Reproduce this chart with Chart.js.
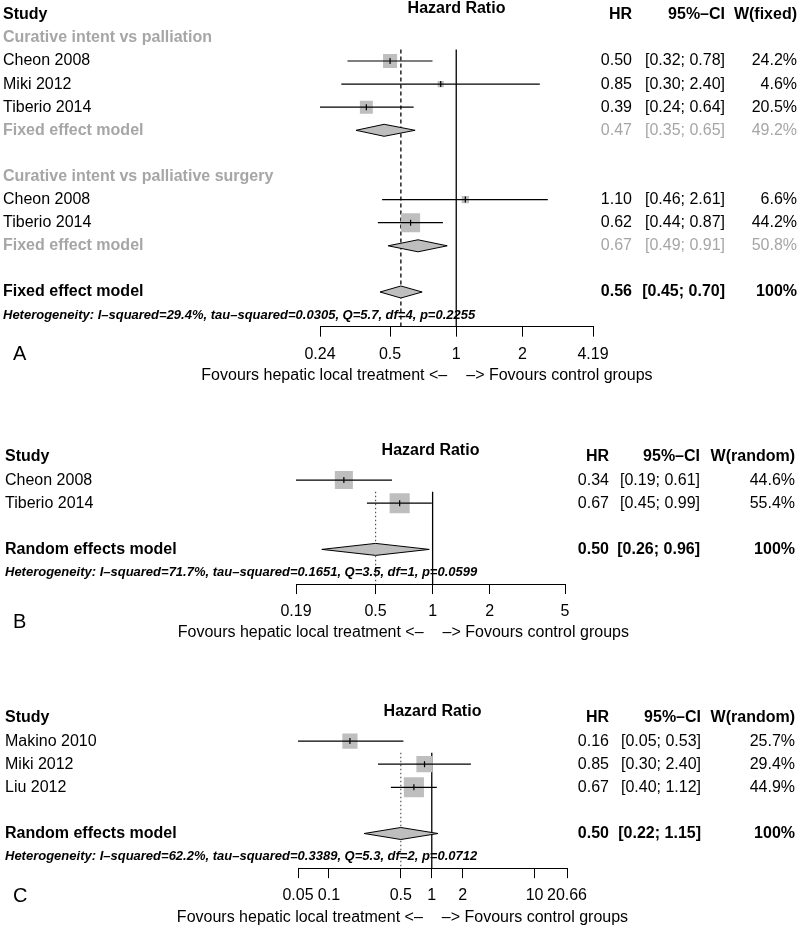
<!DOCTYPE html>
<html lang="en">
<head>
<meta charset="UTF-8">
<title>Forest plots</title>
<script src="https://cdn.jsdelivr.net/npm/chart.js"></script>
<style>
    body { margin: 0; background: #fff; }
    canvas { position: absolute; left: 0; }
</style>
</head>
<body>
<canvas id="chartA" width="800" height="402" style="top:-12px"></canvas>
<canvas id="chartB" width="800" height="255" style="top:390px"></canvas>
<canvas id="chartC" width="800" height="283" style="top:645px"></canvas>
<script>
// ---------- panel A ----------
const studyA = ['Cheon 2008', 'Miki 2012', 'Tiberio 2014', 'Cheon 2008', 'Tiberio 2014'];
const rowA = [2, 3, 4, 8, 9];
const hrA = [0.50, 0.85, 0.39, 1.10, 0.62];
const loA = [0.32, 0.30, 0.24, 0.46, 0.44];
const hiA = [0.78, 2.40, 0.64, 2.61, 0.87];
const wA = [24.2, 4.6, 20.5, 6.6, 44.2];
const groupA = ['Curative intent vs palliation', 'Curative intent vs palliative surgery'];
const groupRowA = [1, 7];
const poolLabelA = ['Fixed effect model', 'Fixed effect model', 'Fixed effect model'];
const poolRowA = [5, 10, 12];
const poolHrA = [0.47, 0.67, 0.56];
const poolLoA = [0.35, 0.49, 0.45];
const poolHiA = [0.65, 0.91, 0.70];
const poolWA = [49.2, 50.8, 100];
const poolTotalA = [false, false, true];
const ticksA = [0.24, 0.5, 1, 2, 4.19];
const hetA = 'Heterogeneity: I–squared=29.4%, tau–squared=0.0305, Q=5.7, df=4, p=0.2255';

// ---------- panel B ----------
const studyB = ['Cheon 2008', 'Tiberio 2014'];
const rowB = [1, 2];
const hrB = [0.34, 0.67];
const loB = [0.19, 0.45];
const hiB = [0.61, 0.99];
const wB = [44.6, 55.4];
const poolLabelB = ['Random effects model'];
const poolRowB = [4];
const poolHrB = [0.50];
const poolLoB = [0.26];
const poolHiB = [0.96];
const poolWB = [100];
const ticksB = [0.19, 0.5, 1, 2, 5];
const hetB = 'Heterogeneity: I–squared=71.7%, tau–squared=0.1651, Q=3.5, df=1, p=0.0599';

// ---------- panel C ----------
const studyC = ['Makino 2010', 'Miki 2012', 'Liu 2012'];
const rowC = [1, 2, 3];
const hrC = [0.16, 0.85, 0.67];
const loC = [0.05, 0.30, 0.40];
const hiC = [0.53, 2.40, 1.12];
const wC = [25.7, 29.4, 44.9];
const poolLabelC = ['Random effects model'];
const poolRowC = [5];
const poolHrC = [0.50];
const poolLoC = [0.22];
const poolHiC = [1.15];
const poolWC = [100];
const ticksC = [0.05, 0.1, 0.5, 1, 2, 10, 20.66];
const hetC = 'Heterogeneity: I–squared=62.2%, tau–squared=0.3389, Q=5.3, df=2, p=0.0712';

const FONT = '"Liberation Sans", Arial, Helvetica, sans-serif';
const GREY_TEXT = '#a6a6a6';
const BOX = '#bebebe';
const ROW = 23.1;
const TICK_LEN = 10, TICK_PAD = 8, TICK_FONT = 16;

function fmtW(v) { return v === 100 ? '100%' : v.toFixed(1) + '%'; }

function buildPanel(id, d, lay) {
    const hetRow = d.hetRow;
    const top = lay.firstRowY - ROW / 2;
    const bottom = top + (hetRow + 1) * ROW;
    const axisH = TICK_LEN + TICK_FONT * 1.2 + TICK_PAD * 2;
    const datasets = [];

    // reference lines
    datasets.push({
        data: [{ x: 1, y: 1.5 }, { x: 1, y: hetRow + 0.5 }],
        showLine: true, borderColor: '#000', borderWidth: 1.3, pointRadius: 0, order: 5
    });
    datasets.push({
        data: [{ x: d.refValue, y: 1.5 }, { x: d.refValue, y: hetRow + 0.5 }],
        showLine: true, borderColor: d.refColor, borderWidth: d.refWidth, borderDash: d.refDash,
        pointRadius: 0, order: 5
    });

    // squares
    datasets.push({
        data: d.hr.map((v, i) => ({ x: v, y: d.row[i] })),
        pointStyle: 'rect',
        pointRadius: d.w.map(w => lay.boxScale * Math.sqrt(w) / 1.414),
        backgroundColor: BOX, borderWidth: 0, order: 4
    });

    // confidence intervals
    d.hr.forEach((v, i) => {
        datasets.push({
            data: [{ x: d.lo[i], y: d.row[i] }, { x: d.hi[i], y: d.row[i] }],
            showLine: true, borderColor: '#000', borderWidth: 1.2, pointRadius: 0, order: 3
        });
    });

    // estimate marks
    datasets.push({
        data: d.hr.map((v, i) => ({ x: v, y: d.row[i] })),
        pointStyle: 'line', pointRotation: 90, pointRadius: 3,
        borderColor: '#000', borderWidth: 1.2, order: 1
    });

    // diamonds
    d.poolHr.forEach((v, i) => {
        const r = d.poolRow[i];
        datasets.push({
            data: [
                { x: d.poolLo[i], y: r }, { x: v, y: r - 0.26 }, { x: d.poolHi[i], y: r },
                { x: v, y: r + 0.26 }, { x: d.poolLo[i], y: r }
            ],
            showLine: true, fill: 'shape', tension: 0,
            backgroundColor: BOX, borderColor: '#000', borderWidth: 1, pointRadius: 0, order: 2
        });
    });

    const textPlugin = {
        id: 'forestText' + id,
        afterDraw(chart) {
            const ctx = chart.ctx;
            const ys = chart.scales.y, xs = chart.scales.x;
            const area = chart.chartArea;
            const put = (txt, x, y, align, font, color) => {
                ctx.font = font;
                ctx.fillStyle = color;
                ctx.textAlign = align;
                ctx.fillText(txt, x, y);
            };
            const reg = '16px ' + FONT, bold = 'bold 16px ' + FONT;
            ctx.save();
            ctx.textBaseline = 'middle';

            // header
            const y0 = ys.getPixelForValue(0);
            put('Study', lay.labelX, y0, 'left', bold, '#000');
            put('Hazard Ratio', (area.left + area.right) / 2, y0 - 6, 'center', bold, '#000');
            put('HR', lay.hrX, y0, 'right', bold, '#000');
            put('95%–CI', lay.ciX, y0, 'right', bold, '#000');
            put(d.wTitle, lay.wX, y0, 'right', bold, '#000');

            (d.group || []).forEach((g, i) => {
                put(g, lay.labelX, ys.getPixelForValue(d.groupRow[i]), 'left', bold, GREY_TEXT);
            });

            d.study.forEach((s, i) => {
                const y = ys.getPixelForValue(d.row[i]);
                put(s, lay.labelX, y, 'left', reg, '#000');
                put(d.hr[i].toFixed(2), lay.hrX, y, 'right', reg, '#000');
                put('[' + d.lo[i].toFixed(2) + '; ' + d.hi[i].toFixed(2) + ']', lay.ciX, y, 'right', reg, '#000');
                put(fmtW(d.w[i]), lay.wX, y, 'right', reg, '#000');
            });

            d.poolLabel.forEach((s, i) => {
                const y = ys.getPixelForValue(d.poolRow[i]);
                const total = d.poolTotal[i];
                const col = total ? '#000' : GREY_TEXT;
                const f = total ? bold : reg;
                put(s, lay.labelX, y, 'left', bold, col);
                put(d.poolHr[i].toFixed(2), lay.hrX, y, 'right', f, col);
                put('[' + d.poolLo[i].toFixed(2) + '; ' + d.poolHi[i].toFixed(2) + ']', lay.ciX, y, 'right', f, col);
                put(fmtW(d.poolW[i]), lay.wX, y, 'right', f, col);
            });

            put(d.het, lay.labelX, ys.getPixelForValue(hetRow), 'left', 'italic bold 13px ' + FONT, '#000');

            const nullX = xs.getPixelForValue(1);
            const labY = area.bottom + 49;
            put('Fovours hepatic local treatment <–', nullX - 9, labY, 'right', reg, '#000');
            put('–> Fovours control groups', nullX + 10, labY, 'left', reg, '#000');

            put(lay.letter, 13, lay.letterY, 'left', '20px ' + FONT, '#000');
            ctx.restore();
        }
    };

    return new Chart(document.getElementById(id), {
        type: 'scatter',
        data: { datasets },
        options: {
            responsive: false,
            animation: false,
            layout: {
                padding: {
                    top: top,
                    bottom: lay.canvasH - bottom - axisH,
                    left: lay.plotLeft,
                    right: 800 - lay.plotRight
                }
            },
            plugins: { legend: { display: false }, tooltip: { enabled: false } },
            scales: {
                x: {
                    type: 'logarithmic',
                    min: d.ticks[0],
                    max: d.ticks[d.ticks.length - 1],
                    afterBuildTicks: s => { s.ticks = d.ticks.map(v => ({ value: v })); },
                    ticks: {
                        autoSkip: false, maxRotation: 0, padding: TICK_PAD, color: '#000',
                        font: { family: FONT, size: TICK_FONT },
                        callback: v => String(v)
                    },
                    grid: {
                        display: true, drawOnChartArea: false, drawTicks: true,
                        tickLength: TICK_LEN, color: '#000', tickWidth: 1
                    },
                    border: { display: true, color: '#000', width: 1 }
                },
                y: { type: 'linear', reverse: true, min: -0.5, max: hetRow + 0.5, display: false }
            }
        },
        plugins: [textPlugin]
    });
}

// panel A canvas starts 12px above the page so the top padding clears the point overflow
buildPanel('chartA', {
    study: studyA, row: rowA, hr: hrA, lo: loA, hi: hiA, w: wA,
    group: groupA, groupRow: groupRowA,
    poolLabel: poolLabelA, poolRow: poolRowA, poolHr: poolHrA, poolLo: poolLoA, poolHi: poolHiA,
    poolW: poolWA, poolTotal: poolTotalA,
    ticks: ticksA, het: hetA, hetRow: 13, wTitle: 'W(fixed)',
    refValue: poolHrA[2], refColor: '#000', refWidth: 1.3, refDash: [4, 3]
}, {
    canvasH: 402, firstRowY: 14.8 + 12, plotLeft: 320, plotRight: 593,
    labelX: 3, hrX: 632, ciX: 725, wX: 797, letter: 'A', letterY: 354 + 12, boxScale: 2.86
});

buildPanel('chartB', {
    study: studyB, row: rowB, hr: hrB, lo: loB, hi: hiB, w: wB,
    poolLabel: poolLabelB, poolRow: poolRowB, poolHr: poolHrB, poolLo: poolLoB, poolHi: poolHiB,
    poolW: poolWB, poolTotal: [true],
    ticks: ticksB, het: hetB, hetRow: 5, wTitle: 'W(random)',
    refValue: poolHrB[0], refColor: '#555', refWidth: 1.2, refDash: [1.5, 2.5]
}, {
    canvasH: 255, firstRowY: 457 - 390, plotLeft: 296, plotRight: 565,
    labelX: 5, hrX: 609, ciX: 700, wX: 795, letter: 'B', letterY: 622 - 390, boxScale: 2.7
});

buildPanel('chartC', {
    study: studyC, row: rowC, hr: hrC, lo: loC, hi: hiC, w: wC,
    poolLabel: poolLabelC, poolRow: poolRowC, poolHr: poolHrC, poolLo: poolLoC, poolHi: poolHiC,
    poolW: poolWC, poolTotal: [true],
    ticks: ticksC, het: hetC, hetRow: 6, wTitle: 'W(random)',
    refValue: poolHrC[0], refColor: '#555', refWidth: 1.2, refDash: [1.5, 2.5]
}, {
    canvasH: 283, firstRowY: 718 - 645, plotLeft: 298, plotRight: 567,
    labelX: 5, hrX: 609, ciX: 701, wX: 795, letter: 'C', letterY: 896 - 645, boxScale: 3.0
});
</script>
</body>
</html>
